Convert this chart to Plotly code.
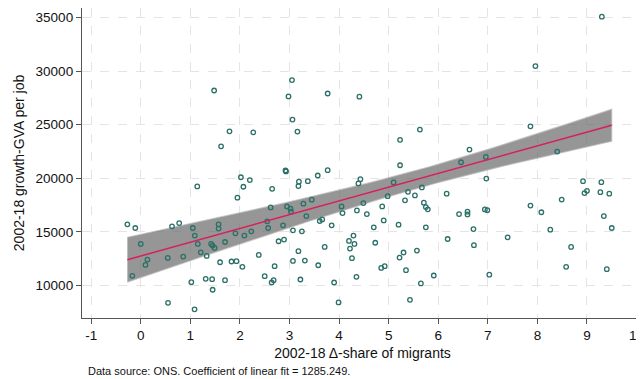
import numpy as np
import plotly.graph_objects as go

# Change in share of migrants (2002-18), percentage points
share_change = [
    1.48, 1.79, 2.27, 1.62, -0.27, -0.11, 0.00, -0.17, 0.095, 0.135,
    0.545, 0.63, 0.775, 0.857, 1.02, 1.05, 1.09, 1.15, 1.21, 1.14,
    1.085, 1.33, 1.31, 1.44, 1.45, 1.42, 1.45, 1.49, 1.57, 1.57,
    1.70, 1.60, 1.70, 1.83, 1.93, 2.05, 1.91, 2.09, 2.23, 1.95,
    2.02, 2.07, 2.20, 2.65, 2.62, 2.55, 2.57, 2.78, 2.38, 2.70,
    2.50, 2.68, 2.64, 0.55, 3.05, 2.98, 3.77, 4.41, 3.06, 3.16,
    5.23, 5.63, 6.63, 2.92, 2.93, 3.19, 3.18, 3.37, 3.57, 3.77,
    5.23, 6.46, 4.39, 4.43, 5.10, 2.95, 3.02, 3.03, 3.28, 3.45,
    3.34, 2.87, 4.05, 4.07, 4.36, 4.56, 4.49, 4.87, 4.98, 5.39,
    5.53, 5.67, 5.33, 4.90, 5.71, 5.75, 5.79, 6.17, 6.42, 6.59,
    6.59, 3.61, 3.66, 3.85, 3.07, 3.25, 4.70, 5.20, 5.75, 4.29,
    4.20, 4.31, 4.22, 4.73, 2.89, 3.71, 3.18, 3.07, 3.31, 3.58,
    4.26, 5.22, 5.30, 5.57, 4.85, 4.92, 5.35, 6.19, 3.22, 3.90,
    4.35, 5.91, 5.65, 5.43, 3.99, 9.30, 7.96, 7.86, 6.96, 8.40,
    6.97, 8.92, 9.29, 8.95, 9.00, 9.27, 9.45, 8.49, 7.86, 8.08,
    6.94, 6.99, 9.34, 6.71, 8.26, 9.50, 7.40, 6.72, 8.68, 8.58,
    9.40, 7.03,
]

# Growth in GVA per job (2002-18)
gva_growth = [
    28200, 24390, 24290, 22990, 15700, 15360, 13870, 10890, 11910, 12410,
    12560, 15510, 15820, 12690, 10300, 15360, 14650, 13870, 13090, 19240,
    7760, 12750, 10610, 10580, 9590, 13870, 13720, 13500, 15700, 15300,
    14050, 12160, 10490, 12230, 12260, 11730, 14860, 14650, 15050, 18190,
    20100, 19210, 19830, 19020, 17280, 15980, 15360, 14120, 12840, 11790,
    10860, 10490, 10270, 8370, 29170, 27650, 27920, 27620, 25480, 24360,
    23590, 24550, 22680, 20730, 20640, 19680, 19270, 19730, 20260, 20760,
    21220, 21500, 19520, 19920, 19610, 17370, 17160, 16880, 17630, 18000,
    16470, 15610, 17370, 16750, 17000, 16660, 17690, 17370, 18330, 18740,
    18400, 19150, 17940, 16070, 17720, 17310, 17100, 18560, 16660, 16880,
    16630, 16010, 16160, 15610, 15140, 15050, 15420, 15670, 15420, 14650,
    14150, 13870, 13440, 13980, 14280, 13590, 13190, 12280, 12320, 11880,
    12540, 12600, 13070, 13250, 11630, 11790, 11420, 14330, 10550, 10270,
    10800, 10920, 10180, 8650, 8410, 35090, 30480, 24850, 22000, 22500,
    19970, 19730, 19640, 18620, 18830, 18700, 18560, 18010, 17450, 16830,
    17090, 17020, 16470, 15260, 15200, 15360, 14490, 13750, 13590, 11730,
    11510, 11000,
]

x_ticks = list(range(-1, 11))
x_tick_labels = [str(v) for v in x_ticks]
y_ticks = [10000, 15000, 20000, 25000, 30000, 35000]
y_tick_labels = ["10000", "15000", "20000", "25000", "30000", "35000"]

# Linear fit as reported (coefficient 1285.249) and its 95% CI band
fit_slope = 1285.249
fit_intercept = 12745.0
ci_center_x = 5.66
ci_halfwidth_min = 850.0
ci_halfwidth_growth = 323.0

x = np.array(share_change, dtype=float)
y = np.array(gva_growth, dtype=float)

xf = np.linspace(x.min(), x.max(), 120)
yf = fit_intercept + fit_slope * xf
half = np.sqrt(ci_halfwidth_min ** 2 + (ci_halfwidth_growth * (xf - ci_center_x)) ** 2)
upper = yf + half
lower = yf - half

fig = go.Figure()
fig.add_trace(go.Scatter(
    x=np.concatenate([xf, xf[::-1]]),
    y=np.concatenate([upper, lower[::-1]]),
    fill="toself", fillcolor="rgba(105,105,105,0.7)",
    line=dict(width=1.2, color="rgba(190,190,190,0.7)"),
    mode="lines", hoverinfo="skip", showlegend=False,
))
fig.add_trace(go.Scatter(
    x=x, y=y, mode="markers", showlegend=False,
    marker=dict(symbol="circle-open", size=4.5, color="#2b7068",
                line=dict(width=1.3, color="#2b7068")),
))
fig.add_trace(go.Scatter(
    x=xf, y=yf, mode="lines", showlegend=False,
    line=dict(color="#d81f5c", width=1.5),
))

font_family = "Liberation Sans, Arial, sans-serif"
axis_common = dict(
    showline=True, linecolor="#555555", linewidth=1.3,
    ticks="outside", ticklen=5, tickcolor="#555555", tickwidth=1.3,
    showgrid=True, gridcolor="#e4e4e4", griddash="dash", gridwidth=1,
    zeroline=False, automargin=False,
    tickfont=dict(size=13.5, color="#111111", family=font_family),
)

fig.update_layout(
    width=644, height=379,
    margin=dict(l=74, r=9, t=0, b=69),
    paper_bgcolor="white", plot_bgcolor="white",
    font=dict(family=font_family, color="#111111"),
    xaxis=dict(
        range=[-1.185, 10.13], tickvals=x_ticks, ticktext=x_tick_labels, **axis_common,
        title=dict(text="2002-18 Δ-share of migrants", font=dict(size=14), standoff=5),
    ),
    yaxis=dict(
        range=[6953, 35904], tickvals=y_ticks, ticktext=y_tick_labels, **axis_common,
        title=dict(text="2002-18 growth-GVA per job", font=dict(size=14), standoff=7),
    ),
    annotations=[dict(
        text="Data source: ONS. Coefficient of linear fit = 1285.249.",
        xref="paper", yref="paper", x=0.007, y=-0.146, xanchor="left", yanchor="top",
        showarrow=False, font=dict(size=11, color="#111111"),
    )],
)

fig.write_html("out.html")
